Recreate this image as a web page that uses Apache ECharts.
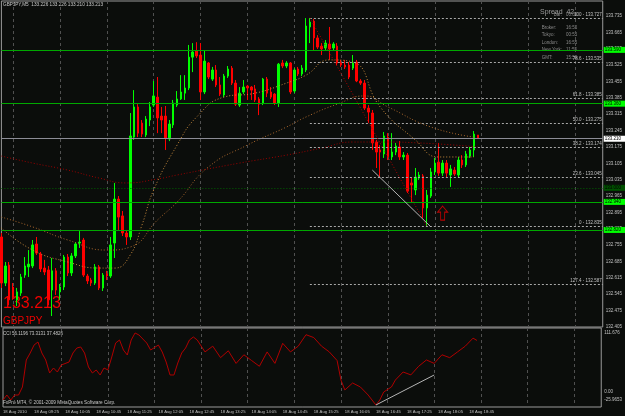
<!DOCTYPE html>
<html>
<head>
<meta charset="utf-8">
<script src="https://cdn.jsdelivr.net/npm/echarts@6/dist/echarts.min.js"></script>
<style>
html, body { margin: 0; padding: 0; background: #0b0d0b; }
#main { width: 625px; height: 416px; }
</style>
</head>
<body>
<div id="main"></div>
<script>
// GBPJPY M5, 18 Aug 2010, one bar every 5 minutes from 08:45
var barCount = 155;
var timeLabels = ['18 Aug 2010', '18 Aug 09:25', '18 Aug 10:05', '18 Aug 10:45', '18 Aug 11:25',
    '18 Aug 12:05', '18 Aug 12:45', '18 Aug 13:25', '18 Aug 14:05', '18 Aug 14:45', '18 Aug 15:25',
    '18 Aug 16:05', '18 Aug 16:45', '18 Aug 17:25', '18 Aug 18:05', '18 Aug 18:45'];

var opens = [132.790,132.593,132.670,132.576,132.521,132.550,132.627,132.662,132.666,132.760,
    132.717,132.657,132.649,132.563,132.645,132.555,132.576,132.704,132.636,132.709,
    132.764,132.777,132.623,132.606,132.593,132.662,132.572,132.632,132.623,132.764,
    132.952,132.880,132.807,132.790,133.217,133.346,133.277,133.226,133.290,133.354,
    133.388,133.307,133.307,133.209,133.269,133.354,133.380,133.405,133.427,133.559,
    133.585,133.568,133.410,133.534,133.465,133.504,133.440,133.397,133.478,133.512,
    133.448,133.354,133.410,133.435,133.431,133.423,133.380,133.363,133.465,133.410,
    133.401,133.363,133.534,133.521,133.534,133.414,133.508,133.487,133.504,133.688,
    133.713,133.641,133.606,133.598,133.615,133.598,133.606,133.534,133.525,133.525,
    133.512,133.538,133.457,133.448,133.341,133.320,133.196,133.162,133.145,133.217,
    133.132,133.153,133.175,133.132,133.140,133.021,132.991,133.042,133.051,132.914,
    132.965,133.068,133.110,133.063,133.106,133.055,133.076,133.055,133.119,133.098,
    133.136,133.162,133.226];
var closes = [132.593,132.666,132.521,132.533,132.555,132.619,132.666,132.674,132.756,132.721,
    132.653,132.640,132.521,132.645,132.563,132.576,132.704,132.636,132.709,132.760,
    132.768,132.627,132.602,132.593,132.662,132.572,132.627,132.623,132.756,132.952,
    132.875,132.807,132.790,133.222,133.346,133.234,133.230,133.294,133.346,133.393,
    133.299,133.290,133.213,133.273,133.363,133.380,133.410,133.427,133.559,133.581,
    133.564,133.410,133.542,133.474,133.504,133.440,133.401,133.478,133.508,133.448,
    133.358,133.405,133.431,133.427,133.418,133.376,133.358,133.465,133.405,133.388,
    133.363,133.529,133.521,133.534,133.410,133.504,133.487,133.512,133.692,133.709,
    133.641,133.602,133.594,133.619,133.594,133.615,133.534,133.525,133.517,133.474,
    133.534,133.457,133.448,133.341,133.324,133.192,133.153,133.153,133.222,133.132,
    133.153,133.179,133.132,133.140,132.986,133.012,133.046,133.055,132.914,132.969,
    133.068,133.106,133.063,133.106,133.063,133.081,133.059,133.119,133.098,133.145,
    133.162,133.230,133.213];
var lows = [132.572,132.580,132.499,132.521,132.495,132.538,132.615,132.619,132.657,132.713,
    132.640,132.627,132.499,132.452,132.542,132.521,132.563,132.623,132.623,132.700,
    132.743,132.619,132.589,132.580,132.585,132.563,132.559,132.606,132.615,132.700,
    132.820,132.794,132.756,132.777,133.205,133.217,133.217,133.217,133.264,133.346,
    133.234,133.234,133.162,133.200,133.256,133.346,133.376,133.376,133.418,133.495,
    133.555,133.376,133.401,133.465,133.457,133.431,133.393,133.388,133.470,133.440,
    133.350,133.346,133.401,133.376,133.376,133.367,133.311,133.354,133.388,133.380,
    133.354,133.346,133.512,133.512,133.401,133.405,133.478,133.478,133.495,133.619,
    133.589,133.594,133.568,133.589,133.547,133.589,133.525,133.517,133.508,133.465,
    133.504,133.452,133.440,133.333,133.277,133.162,133.085,133.046,133.128,133.119,
    133.119,133.140,133.119,133.119,132.978,132.935,132.969,133.034,132.871,132.833,
    132.957,133.055,133.051,133.051,133.046,133.004,133.051,133.046,133.085,133.089,
    133.128,133.132,133.210];
var highs = [132.807,132.683,132.683,132.593,132.572,132.632,132.704,132.734,132.777,132.790,
    132.726,132.692,132.666,132.700,132.657,132.589,132.713,132.717,132.721,132.768,
    132.815,132.786,132.632,132.615,132.674,132.670,132.636,132.645,132.790,133.021,
    132.965,132.901,132.820,133.320,133.418,133.358,133.290,133.307,133.367,133.457,
    133.474,133.346,133.350,133.290,133.376,133.414,133.482,133.482,133.611,133.619,
    133.623,133.619,133.589,133.538,133.517,133.525,133.474,133.487,133.521,133.521,
    133.461,133.431,133.461,133.440,133.435,133.440,133.388,133.470,133.474,133.431,
    133.405,133.534,133.547,133.542,133.538,133.512,133.517,133.525,133.726,133.726,
    133.722,133.653,133.619,133.632,133.688,133.623,133.619,133.547,133.547,133.538,
    133.568,133.547,133.465,133.461,133.354,133.333,133.205,133.183,133.239,133.234,
    133.234,133.192,133.200,133.153,133.149,133.046,133.085,133.068,133.059,132.991,
    133.085,133.128,133.192,133.119,133.119,133.098,133.089,133.132,133.140,133.158,
    133.175,133.243,133.226];

// moving averages at a few bars: [bar, price]
var maSlow = [[0,133.136],[8,133.106],[17,133.076],[25,133.042],[32,133.021],[40,133.038],[45,133.055],
    [61,133.106],[73,133.140],[82,133.170],[90,133.196],[99,133.196],[107,133.192],[116,133.183],[122,133.175]];
var maMid = [[0,132.875],[8,132.833],[17,132.777],[27,132.734],[33,132.747],[40,132.863],[45,132.939],
    [53,133.089],[63,133.183],[73,133.260],[78,133.303],[86,133.358],[93,133.393],[99,133.346],[110,133.260],[121,133.217]];
var maFast = [[0,132.828],[8,132.734],[17,132.683],[25,132.657],[29,132.657],[33,132.713],[36,132.841],
    [39,132.991],[45,133.183],[50,133.303],[57,133.388],[65,133.405],[73,133.448],[78,133.482],[84,133.547],
    [90,133.538],[97,133.346],[106,133.205],[112,133.132],[121,133.132]];

// horizontal levels
var greenLevels = [133.589, 133.358, 132.935, 132.824];
var dottedLevel = 132.999;
var bidPrice = 133.213;

// fibonacci retracement from bar 79 (high) to bar 109 (low)
var fibNames = ['100', '78.6', '61.8', '50.0', '38.2', '23.6', '0', '127.4'];
var fibPrices = [133.727, 133.535, 133.385, 133.275, 133.174, 133.045, 132.835, 132.587];

// CCI sub window: [bar, value]
var cci = [[0,-13.8],[1,-5.1],[2,-13.8],[3,-5.1],[4,-5.1],[5,8.9],[6,55.9],[7,68.1],[8,82],[9,87.3],
    [10,68.1],[11,55.9],[12,33.3],[13,42],[14,35],[15,47.2],[17,52.4],[18,68.1],[19,76.8],[20,78.6],
    [21,68.1],[22,43.7],[23,33.3],[24,38.5],[25,29.8],[26,42],[27,38.5],[28,61.2],[29,85.5],[30,90.8],
    [31,73.3],[32,64.6],[33,90.8],[34,103],[35,99.5],[37,85.5],[38,73.3],[40,82],[41,69.8],[42,52.4],
    [43,29.8],[44,29.8],[45,50.7],[46,68.1],[47,76.8],[48,90.8],[49,96],[50,90.8],[52,70],[54,80],
    [56,60],[58,72],[60,50],[62,65],[64,55],[66,45],[68,70],[70,50],[72,85],[74,70],[76,80],[78,100],
    [80,95],[82,80],[84,70],[86,55],[87,21],[88,3.7],[90,15.9],[92,8.9],[94,-5.1],[96,-22.5],[97,-13.8],
    [98,0.2],[100,8.9],[101,21],[103,35],[105,30],[107,45],[109,56],[111,50],[113,65],[115,60],[117,70],
    [119,80],[121,94],[122,90]];
var cciTicks = [-25.9653, 0, 111.676];

var cats = [];
for (var i = 0; i < barCount; i++) cats.push(i);
var candles = opens.map(function (o, i) { return [o, closes[i], lows[i], highs[i]]; });

var yMin = 132.405, yStep = 0.035;
var grey = '#c0c0c0';
var font = 'Liberation Sans';

function levelLabel(bg, fg) {
    return {
        show: true, position: 'end', distance: 1, fontSize: 4.5, fontFamily: font,
        color: fg, backgroundColor: bg, padding: [1, 6, 0, 1],
        formatter: function (p) { return p.value.toFixed(3); }
    };
}

var levelLines = greenLevels.map(function (v) {
    return { yAxis: v, lineStyle: { color: '#00a800', type: 'solid', width: 1 }, label: levelLabel('#00ff00', '#000') };
});
levelLines.push({ yAxis: dottedLevel, lineStyle: { color: '#006000', type: [1, 2], width: 1 }, label: levelLabel('#005000', '#000') });
levelLines.push({ yAxis: bidPrice, lineStyle: { color: '#8c8c96', type: 'solid', width: 1 }, label: levelLabel('#ffffff', '#000') });
fibPrices.forEach(function (p, k) {
    levelLines.push([
        { coord: [79, p], lineStyle: { color: '#a8a8a8', type: [2, 2], width: 1 },
          label: { show: true, position: 'insideEndTop', distance: 1, fontSize: 4.5, fontFamily: font, color: grey,
                   formatter: fibNames[k] + ' - ' + p.toFixed(3) } },
        { coord: [barCount - 1, p] }
    ]);
});
// fibo base line and hand-drawn trendline
levelLines.push([{ coord: [79, fibPrices[0]], lineStyle: { color: '#b00000', type: [1, 2], width: 1 }, label: { show: false } },
    { coord: [109, fibPrices[6]] }]);
levelLines.push([{ coord: [95, 133.076], lineStyle: { color: '#b4b4b4', type: 'solid', width: 1 }, label: { show: false } },
    { coord: [110, 132.833] }]);

var gridLines = {
    show: true,
    interval: function (idx) { return idx % 12 === 3; },
    lineStyle: { color: '#505050', type: [3, 3], width: 1 }
};

var myChart = echarts.init(document.getElementById('main'));
var option = {
    backgroundColor: '#0b0d0b',
    animation: false,
    grid: [
        { left: 1.4, right: 19, top: 1, height: 326, show: true, borderColor: '#9a9a9a', borderWidth: 1 },
        { left: 1.4, right: 19, top: 328, height: 79, show: true, borderColor: '#9a9a9a', borderWidth: 1 }
    ],
    xAxis: [
        { type: 'category', gridIndex: 0, data: cats, boundaryGap: false,
          axisLine: { show: false }, axisTick: { show: false }, axisLabel: { show: false }, splitLine: gridLines },
        { type: 'category', gridIndex: 1, data: cats, boundaryGap: false,
          axisLine: { show: false }, axisTick: { show: false }, splitLine: gridLines,
          axisLabel: { show: true, interval: 7, align: 'left', fontSize: 4.2, fontFamily: font, color: grey, margin: 3,
                       showMaxLabel: false,
                       formatter: function (v, idx) { return timeLabels[idx / 8] || ''; } } }
    ],
    yAxis: [
        { type: 'value', gridIndex: 0, position: 'right', min: yMin, max: 133.799, interval: yStep,
          splitLine: { show: false }, axisLine: { show: false }, axisTick: { show: false },
          axisLabel: { fontSize: 4.5, fontFamily: font, color: grey, margin: 3,
                       formatter: function (v) {
                           var k = (v - yMin) / yStep, r = Math.round(k);
                           if (Math.abs(k - r) > 0.01 || r % 2) return '';
                           return v.toFixed(3);
                       } } },
        { type: 'value', gridIndex: 1, position: 'right', min: cciTicks[0], max: cciTicks[2],
          splitLine: { show: false }, axisLine: { show: false }, axisTick: { show: false },
          axisLabel: { fontSize: 4.5, fontFamily: font, color: grey, margin: 3, customValues: cciTicks,
                       formatter: function (v) {
                           if (v === 0) return '0.00';
                           if (v > 0) return '{t|' + v + '}';
                           return '{b|' + v + '}';
                       },
                       rich: { t: { padding: [10, 0, 0, 0], fontSize: 4.5, color: grey },
                               b: { padding: [0, 0, 14, 0], fontSize: 4.5, color: grey } } } }
    ],
    series: [
        { type: 'candlestick', xAxisIndex: 0, yAxisIndex: 0, data: candles, barWidth: 2,
          itemStyle: { color: '#00ff00', color0: '#ff0000', borderColor: '#00ff00', borderColor0: '#ff0000', borderWidth: 1 },
          markLine: { silent: true, symbol: ['none', 'none'], animation: false, data: levelLines } },
        { type: 'line', xAxisIndex: 0, yAxisIndex: 0, data: maSlow, symbol: 'none', smooth: true,
          lineStyle: { color: '#9a0000', width: 1, type: [1, 2] } },
        { type: 'line', xAxisIndex: 0, yAxisIndex: 0, data: maMid, symbol: 'none', smooth: true,
          lineStyle: { color: '#a8662c', width: 1, type: [1, 2] } },
        { type: 'line', xAxisIndex: 0, yAxisIndex: 0, data: maFast, symbol: 'none', smooth: true,
          lineStyle: { color: '#c88a3c', width: 1, type: [1, 2] } },
        { type: 'scatter', xAxisIndex: 0, yAxisIndex: 0, data: [[113, 132.892]], symbolSize: [10, 14],
          symbol: 'path://M5,0 L10,6 L7,6 L7,14 L3,14 L3,6 L0,6 Z',
          itemStyle: { color: 'transparent', borderColor: '#e00000', borderWidth: 1 } },
        { type: 'line', xAxisIndex: 1, yAxisIndex: 1, data: cci, symbol: 'none',
          lineStyle: { color: '#b00000', width: 1 },
          markLine: { silent: true, symbol: ['none', 'none'], label: { show: false },
                      data: [[{ coord: [96, -22.5], lineStyle: { color: '#b4b4b4', type: 'solid', width: 1 } }, { coord: [111, 29.8] }]] } }
    ],
    graphic: [
        { type: 'text', left: 3, top: 2, style: { text: 'GBPJPY,M5  133.226 133.226 133.210 133.213', fill: '#c8c8c8', fontSize: 4.7, fontFamily: font } },
        { type: 'text', left: 540, top: 9, style: { text: 'Spread  42', fill: '#9a9a9a', fontSize: 7, fontFamily: font } },
        { type: 'text', right: 63, top: 12, style: { text: 'Bar:', fill: '#8a8a8a', fontSize: 4.5, fontFamily: font, align: 'right' } },
        { type: 'text', left: 566, top: 12, style: { text: '00:00', fill: '#8a8a8a', fontSize: 4.5, fontFamily: font } },
        { type: 'text', right: 63, top: 24, style: { text: 'Broker:\nTokyo:\nLondon:\nNew York:\nGMT:', fill: '#8a8a8a', fontSize: 4.5, lineHeight: 7.5, fontFamily: font, align: 'right' } },
        { type: 'text', left: 566, top: 24, style: { text: '16:55\n00:55\n16:55\n11:55\n15:55', fill: '#8a8a8a', fontSize: 4.5, lineHeight: 7.5, fontFamily: font } },
        { type: 'text', left: 3, top: 296, style: { text: '133.213', fill: '#f00000', fontSize: 16, fontFamily: font } },
        { type: 'text', left: 3, top: 316, style: { text: 'GBPJPY', fill: '#f00000', fontSize: 10, fontFamily: font } },
        { type: 'text', left: 3, top: 331, style: { text: 'CCI 56.1196 73.3131 37.4826', fill: '#c8c8c8', fontSize: 4.5, fontFamily: font } },
        { type: 'text', left: 3, top: 400, style: { text: 'FxPro MT4, \u00a9 2001-2009 MetaQuotes Software Corp.', fill: '#c8c8c8', fontSize: 4.7, fontFamily: font } }
    ]
};
myChart.setOption(option);
</script>
</body>
</html>
